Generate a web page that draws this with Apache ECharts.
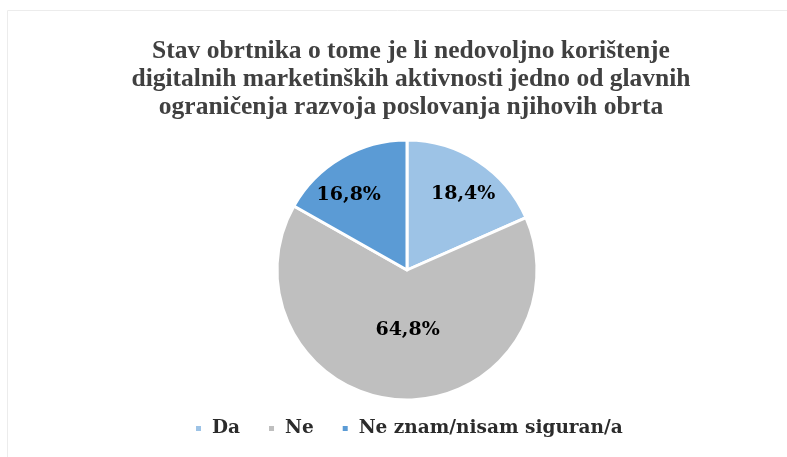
<!DOCTYPE html>
<html>
<head>
<meta charset="utf-8">
<script src="https://cdn.jsdelivr.net/npm/echarts@6/dist/echarts.min.js"></script>
<style>
  html, body { margin: 0; padding: 0; background: #fff; }
  #chart { width: 787px; height: 457px; }
</style>
</head>
<body>
<div id="chart"></div>
<script>
// podaci
const categories = ['Da', 'Ne', 'Ne znam/nisam siguran/a'];
const values = [18.4, 64.8, 16.8];
const colors = ['#9dc3e6', '#bfbfbf', '#5b9bd5'];
// pomak oznaka (kao u Excelu)
const labelOffsets = [[19, -19], [4, -8], [-24, -16]];

const chart = echarts.init(document.getElementById('chart'));

const option = {
  animation: false,
  color: colors,
  graphic: [{
    type: 'rect',
    shape: { x: 7.5, y: 10.5, width: 800, height: 500 },
    style: { fill: 'none', stroke: '#ececec', lineWidth: 1 },
    silent: true
  }],
  title: {
    text: 'Stav obrtnika o tome je li nedovoljno korištenje\ndigitalnih marketinških aktivnosti jedno od glavnih\nograničenja razvoja poslovanja njihovih obrta',
    left: 406,
    textAlign: 'center',
    top: 32,
    textStyle: {
      fontFamily: 'Liberation Serif',
      fontWeight: 'bold',
      fontSize: 25.5,
      lineHeight: 28,
      color: '#404040'
    }
  },
  legend: {
    bottom: 14,
    left: 189,
    itemWidth: 7,
    itemHeight: 7,
    itemGap: 27,
    icon: 'rect',
    textStyle: {
      fontFamily: 'DejaVu Serif',
      fontWeight: 'bold',
      fontSize: 18.5,
      color: '#2b2b2b',
      padding: [0, 0, 0, 5]
    },
    data: categories
  },
  series: [{
    type: 'pie',
    center: [407, 270],
    radius: 130,
    startAngle: 90,
    clockwise: true,
    itemStyle: { borderColor: '#fff', borderWidth: 3 },
    label: {
      show: true,
      position: 'inside',
      formatter: p => p.value.toFixed(1).replace('.', ',') + '%',
      fontFamily: 'DejaVu Serif',
      fontWeight: 'bold',
      fontSize: 19,
      color: '#000'
    },
    labelLine: { show: false },
    emphasis: { disabled: true },
    data: categories.map((c, i) => ({
      name: c,
      value: values[i],
      label: { offset: labelOffsets[i] }
    }))
  }]
};

chart.setOption(option);
</script>
</body>
</html>
